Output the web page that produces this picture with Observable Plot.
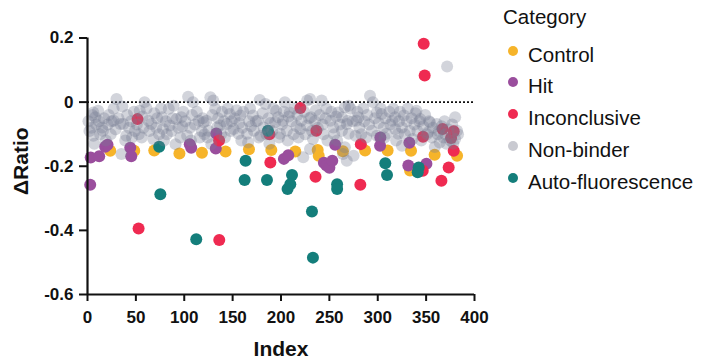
<!DOCTYPE html>
<html>
<head>
<meta charset="utf-8">
<script src="https://cdn.jsdelivr.net/npm/d3@7"></script>
<script src="https://cdn.jsdelivr.net/npm/@observablehq/plot@0.6"></script>
<style>
  html, body { margin: 0; padding: 0; background: #fff; }
  #wrap { position: relative; width: 701px; height: 363px; font-family: "Liberation Sans", Arial, sans-serif; color: #111; }
  #legend { position: absolute; left: 503px; top: 5px; font-size: 20.5px; }
  #legend .title { line-height: 24px; height: 24px; }
  #legend .row { position: relative; height: 31.8px; line-height: 31.8px; }
  #legend .sw { position: absolute; left: 5px; top: 7px; width: 10px; height: 10px; border-radius: 50%; }
  #legend .lbl { position: absolute; left: 25px; top: 0; white-space: nowrap; }
</style>
</head>
<body>
<div id="wrap"></div>
<script>
const categories = ["Control", "Hit", "Inconclusive", "Non-binder", "Auto-fluorescence"];
const colors = ["#f6b42a", "#9a4e9d", "#ef2a51", "#c9cad1", "#147e7b"];
const xTicks = [0, 50, 100, 150, 200, 250, 300, 350, 400];
const yTicks = [0.2, 0, -0.2, -0.4, -0.6];

const controlIdx = [23.5, 48.3, 69, 95, 118.3, 142.7, 166.9, 190, 214.8, 237.9, 239, 264, 286.9, 310.2, 334.4, 333.4, 358.8, 382];
const controlVal = [-0.152, -0.152, -0.151, -0.160, -0.158, -0.154, -0.147, -0.149, -0.154, -0.149, -0.167, -0.153, -0.151, -0.151, -0.152, -0.213, -0.164, -0.167];

const hitIdx = [2.8, 3.3, 12.1, 18.3, 20.7, 44.2, 45.2, 105.7, 107.2, 133.1, 132.6, 203, 207.5, 244.3, 247, 250, 253, 256, 302.7, 302.4, 332.7, 331.6, 350.3];
const hitVal = [-0.258, -0.173, -0.169, -0.139, -0.133, -0.142, -0.169, -0.131, -0.142, -0.098, -0.145, -0.177, -0.166, -0.189, -0.198, -0.205, -0.183, -0.133, -0.110, -0.136, -0.127, -0.198, -0.192];

const inconIdx = [51.7, 52.8, 136.2, 136, 188, 189, 220, 236.5, 235.7, 282.5, 282, 347.5, 348.5, 346.8, 346.5, 367, 375.8, 378.5, 378.5, 373.3, 365.8];
const inconVal = [-0.053, -0.394, -0.430, -0.120, -0.100, -0.188, -0.018, -0.089, -0.233, -0.131, -0.258, 0.182, 0.083, -0.108, -0.214, -0.084, -0.112, -0.091, -0.152, -0.204, -0.245];

const autoIdx = [74.1, 75.3, 112.4, 186.5, 163.4, 162.4, 185.5, 211.4, 209.6, 206.8, 258, 258, 232, 233, 307.8, 309.6, 342.3, 341.3];
const autoVal = [-0.139, -0.287, -0.428, -0.089, -0.183, -0.243, -0.243, -0.227, -0.256, -0.271, -0.256, -0.271, -0.341, -0.485, -0.191, -0.227, -0.204, -0.219];

const nonIdx = [
  1, 2, 4, 5, 6, 6, 7, 8, 9,
  11, 12, 13, 15, 16, 17, 19,
  21, 22, 24, 25, 27, 27, 29,
  30, 32, 34, 35, 36, 37, 39,
  40, 41, 43, 45, 46, 48, 49,
  51, 53, 54, 56, 57, 59, 58,
  61, 63, 64, 66, 68, 69,
  71, 72, 74, 76, 77, 78, 79,
  81, 82, 84, 85, 87, 89, 88,
  91, 92, 94, 96, 97, 99, 98,
  101, 103, 104, 106, 108, 109, 107,
  111, 113, 115, 116, 118, 119,
  120, 121, 123, 124, 125, 127, 128, 129,
  130, 132, 134, 135, 137, 138, 139,
  141, 142, 144, 145, 147, 148, 149,
  151, 152, 154, 156, 157, 158, 159,
  160, 161, 165, 166, 167, 168, 169,
  171, 172, 174, 176, 177, 178, 179,
  181, 182, 184, 185, 187, 188, 189,
  191, 192, 194, 195, 197, 198, 199,
  201, 202, 203, 204, 206, 207, 208, 209,
  211, 213, 214, 216, 217, 218,
  220, 221, 223, 224, 225, 227, 227, 229,
  230, 230, 231, 232, 233, 235, 236, 238,
  240, 242, 243, 244, 246, 247, 248,
  251, 252, 254, 255, 257, 259, 258,
  261, 263, 263, 264, 266, 266, 268, 268, 269,
  270, 270, 272, 274, 275, 277, 278, 279,
  280, 281, 283, 285, 286, 288, 289,
  291, 292, 294, 295, 297, 299, 299,
  301, 303, 304, 306, 307, 308, 309,
  312, 313, 315, 316, 318, 318, 319,
  321, 322, 323, 325, 325, 327, 328,
  330, 331, 333, 335, 336, 338, 339,
  340, 341, 343, 344, 345, 347, 349,
  351, 352, 353, 354, 356, 357, 359,
  361, 362, 363, 364, 366, 368, 369,
  370, 371, 371.7, 373, 375, 377, 378,
  380, 380, 382, 383
];
const nonVal = [
  -0.06, -0.09, -0.08, -0.04, -0.105, -0.032, -0.13, -0.047, -0.07,
  -0.027, -0.06, -0.1, -0.079, -0.089, -0.05, -0.12,
  -0.07, -0.04, -0.1, -0.06, -0.021, -0.058, -0.085,
  0.01, -0.05, -0.068, -0.162, -0.014, -0.068, -0.12,
  -0.105, -0.04, -0.08, -0.06, -0.11, -0.03, -0.09,
  -0.07, -0.1, -0.027, -0.11, -0.045, 0, -0.08,
  -0.02, -0.058, -0.09, -0.068, -0.115, -0.035,
  -0.08, -0.05, -0.1, -0.02, -0.047, -0.084, -0.12,
  -0.06, -0.1, -0.021, -0.073, -0.09, -0.011, -0.05,
  -0.131, -0.053, -0.08, -0.11, -0.047, -0.03, -0.075,
  -0.06, -0.105, 0.017, -0.08, -0.04, 0, -0.12,
  -0.07, -0.03, -0.058, -0.11, -0.09, -0.05,
  -0.063, -0.1, -0.058, -0.11, -0.089, 0.015, -0.131, -0.04,
  0.005, -0.021, -0.079, -0.05, -0.073, -0.1, -0.03,
  -0.06, -0.11, -0.068, -0.02, -0.037, -0.09, -0.06,
  -0.084, -0.05, -0.025, -0.099, -0.065, -0.042, -0.12,
  -0.08, -0.03, -0.099, -0.126, -0.06, -0.02, -0.075,
  -0.042, -0.089, -0.06, -0.058, -0.11, 0.007, -0.105,
  -0.035, -0.079, -0.006, -0.1, -0.05, -0.13, -0.065,
  -0.09, -0.02, -0.063, -0.027, -0.047, -0.11, -0.099,
  -0.07, -0.058, -0.03, 0, -0.089, -0.12, -0.045, -0.032,
  -0.06, -0.1, -0.02, -0.075, -0.04, -0.11,
  -0.084, -0.058, -0.172, -0.03, -0.1, 0.005, -0.073, -0.05,
  0.01, -0.146, -0.047, -0.09, -0.115, -0.06, -0.025, -0.08,
  -0.04, 0.005, -0.07, -0.1, -0.05, -0.021, -0.12,
  -0.058, -0.03, -0.079, -0.1, -0.045, -0.032, -0.12,
  -0.07, -0.047, -0.089, -0.162, -0.016, -0.141, -0.068, -0.183, -0.058,
  -0.011, -0.099, -0.021, -0.06, -0.167, -0.105, -0.058, -0.03,
  -0.047, -0.08, -0.1, -0.02, -0.06, -0.11, -0.04,
  -0.07, 0.02, -0.089, 0, -0.05, -0.032, -0.105,
  -0.065, -0.02, -0.037, -0.08, -0.11, -0.05, -0.099,
  -0.03, -0.07, -0.058, -0.021, -0.047, -0.084, -0.12,
  -0.099, -0.06, -0.03, -0.079, -0.136, -0.042, -0.1,
  -0.06, -0.02, -0.09, -0.05, -0.115, -0.07, -0.035,
  -0.027, -0.09, -0.06, -0.053, -0.12, -0.075, -0.04,
  -0.1, -0.094, -0.06, -0.063, -0.11, -0.08, -0.14,
  -0.068, -0.1, -0.09, -0.126, -0.075, -0.11, -0.06,
  -0.1, -0.13, 0.111, -0.085, -0.12, -0.07, -0.13,
  -0.047, -0.115, -0.089, -0.1
];

function rows(idx, val, cat) {
  if (idx.length !== val.length) throw new Error("length mismatch for " + cat + ": " + idx.length + " vs " + val.length);
  return idx.map((x, i) => ({index: x, ratio: val[i], category: cat}));
}

const colored = [
  ...rows(controlIdx, controlVal, "Control"),
  ...rows(hitIdx, hitVal, "Hit"),
  ...rows(inconIdx, inconVal, "Inconclusive"),
  ...rows(autoIdx, autoVal, "Auto-fluorescence")
];
const nonbinders = rows(nonIdx, nonVal, "Non-binder");

const chart = Plot.plot({
  width: 701,
  height: 363,
  marginLeft: 87,
  marginRight: 227,
  marginTop: 37.5,
  marginBottom: 69,
  x: {domain: [0, 400]},
  y: {domain: [-0.6, 0.2]},
  color: {domain: categories, range: colors},
  style: {fontFamily: "'Liberation Sans', Arial, sans-serif", fontSize: "17px", fontWeight: "bold", color: "#111", background: "transparent", overflow: "visible"},
  marks: [
    Plot.ruleY([0], {stroke: "#111", strokeWidth: 1.6, strokeDasharray: "2,2"}),
    Plot.dot(colored, {x: "index", y: "ratio", fill: "category", r: 6, stroke: "none"}),
    Plot.dot(nonbinders, {x: "index", y: "ratio", fill: "#767c92", fillOpacity: 0.33, r: 6, stroke: "none"}),
    Plot.axisX(xTicks, {tickSize: 7, tickPadding: 9, strokeWidth: 2, stroke: "#111", label: null, tickFormat: d => String(d)}),
    Plot.axisY(yTicks, {tickSize: 8, tickPadding: 6, strokeWidth: 2, stroke: "#111", label: null, tickFormat: d => String(d)}),
    Plot.ruleX([0], {stroke: "#111", strokeWidth: 2.2}),
    Plot.ruleY([-0.6], {stroke: "#111", strokeWidth: 2.2}),
    Plot.text(["Index"], {frameAnchor: "bottom", dy: 61, fontSize: 21, fontWeight: "bold", fill: "#111"}),
    Plot.text(["ΔRatio"], {frameAnchor: "left", dx: -66, dy: -5, rotate: -90, textAnchor: "middle", fontSize: 21, fontWeight: "bold", fill: "#111"})
  ]
});

const wrap = document.getElementById("wrap");
wrap.appendChild(chart);

const legend = document.createElement("div");
legend.id = "legend";
const title = document.createElement("div");
title.className = "title";
title.textContent = "Category";
legend.appendChild(title);
const spacer = document.createElement("div");
spacer.style.height = "9.7px";
legend.appendChild(spacer);
categories.forEach((c, i) => {
  const row = document.createElement("div");
  row.className = "row";
  const sw = document.createElement("span");
  sw.className = "sw";
  sw.style.background = colors[i];
  const lbl = document.createElement("span");
  lbl.className = "lbl";
  lbl.textContent = c;
  row.appendChild(sw);
  row.appendChild(lbl);
  legend.appendChild(row);
});
wrap.appendChild(legend);
</script>
</body>
</html>
